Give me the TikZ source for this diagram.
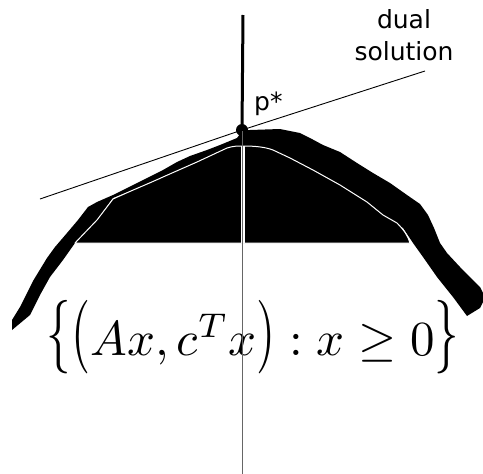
\documentclass[tikz,border=0pt]{standalone}
\usepackage{graphicx}
\usepackage{fontspec}
\newfontfamily\lblfont{DejaVu Sans}
\newcommand{\tallDelim}[1]{\scalebox{1}[1.5]{$#1$}}
\tikzset{
  lbl/.style={font=\lblfont\fontsize{25}{32}\selectfont, inner sep=0pt},
  band/.style={fill=black, draw=none},
  region/.style={fill=black, draw=white, line width=1pt, line join=round},
  axis/.style={draw=black!60, line width=1.4pt},
  tangent/.style={draw=black, line width=0.9pt},
  normal/.style={draw=black, line width=3pt},
}
\begin{document}
\begin{tikzpicture}[x=1pt,y=-1pt]
\useasboundingbox (0,0) rectangle (483,474);
% thick band
\path[band] (12,330) -- (12,320) -- (20,307) -- (33,281) -- (47,258) -- (55,247) -- (67,233)
  -- (78,220) -- (88,207) -- (97,202) -- (113,195) -- (133,185) -- (147,178) -- (163,170)
  -- (177,162) -- (190,156) -- (207,150) -- (220,145) -- (237,138) -- (243,130)
  -- (250,130) -- (280,129) -- (300,133) -- (310,138) -- (323,145) -- (340,152) -- (357,163)
  -- (373,173) -- (390,183) -- (407,195) -- (420,204) -- (428,215) -- (434,228) -- (440,243)
  -- (447,253) -- (460,267) -- (470,277) -- (480,287) -- (483,293) -- (483,302) -- (480,308)
  -- (467,316) -- (453,297) -- (437,277) -- (423,257) -- (413,243)
  -- (403,228) -- (383,215) -- (367,202) -- (340,185) -- (313,170) -- (290,158) -- (273,150)
  -- (243,146) -- (227,148) -- (197,162) -- (163,177) -- (133,190) -- (113,198) -- (97,220)
  -- (75,243) -- (63,260) -- (50,277) -- (40,295) -- (30,315) -- cycle;
% inner region
\path[region] (75,243) -- (97,220) -- (113,199)
  .. controls (135,189) and (150,183) .. (163,177)
  -- (197,162) -- (227,148)
  .. controls (233,146) and (238,146) .. (243,146)
  .. controls (255,146) and (265,147) .. (273,150)
  -- (290,158) -- (313,170) -- (340,185) -- (367,202) -- (383,215) -- (397,223)
  .. controls (404,230) and (408,236) .. (410,243)
  -- cycle;
% white gap around the vertical axis inside the region
\draw[white, line width=4pt] (242.5,146) -- (242.5,243);
% formula
\node[inner sep=0pt, anchor=base] (set) at (253,355)
  {\scalebox{4.9}{$\mathopen{\tallDelim{\{}}\mathopen{\tallDelim{(}}Ax,c^Tx\mathclose{\tallDelim{)}}:x\geq 0\mathclose{\tallDelim{\}}}$}};
% point p*
\node[circle, fill=black, inner sep=0pt, minimum size=12pt] (pstar) at (242,130) {};
\coordinate (axisbottom) at (242.5,474);
\coordinate (normaltop) at (243,15);
\coordinate (tanleft) at (40,199);
\coordinate (tanright) at (425,71);
\draw[axis] (242.5,131) -- (axisbottom);
\draw[tangent] (tanleft) -- (pstar.center) -- (tanright);
\draw[normal] (normaltop) -- (pstar.center);
% labels
\node[lbl, anchor=base west] (plabel) at (254,110) {p*};
\node[lbl, align=center, anchor=north] (dual) at (404,9) {dual\\solution};
\end{tikzpicture}
\end{document}
